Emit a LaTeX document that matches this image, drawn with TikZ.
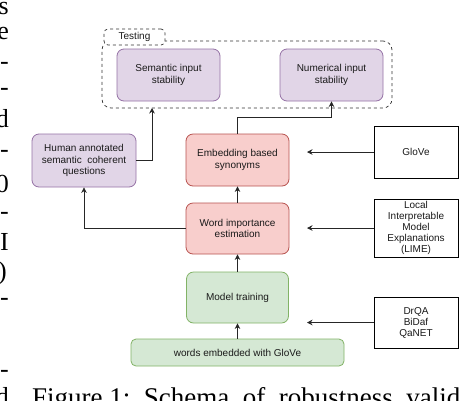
\documentclass[tikz,border=0pt]{standalone}
\usepackage{fontspec}
\setmainfont{Liberation Sans}
\newfontfamily\paperfont{Liberation Serif}
\usetikzlibrary{arrows.meta}
\definecolor{purfill}{HTML}{E1D5E7}
\definecolor{purline}{HTML}{9673A6}
\definecolor{redfill}{HTML}{F8CECC}
\definecolor{redline}{HTML}{B85450}
\definecolor{grnfill}{HTML}{D5E8D4}
\definecolor{grnline}{HTML}{82B366}
\definecolor{txt}{HTML}{1A1A1A}
\tikzset{
  box/.style={rounded corners=7pt, line width=0.8pt, inner sep=0pt, align=center,
    font=\fontsize{10}{11.8}\selectfont, text=txt},
  purbox/.style={box, draw=purline, fill=purfill},
  redbox/.style={box, draw=redline, fill=redfill},
  grnbox/.style={box, draw=grnline, fill=grnfill},
  srcbox/.style={draw=black, line width=0.8pt, inner sep=0pt, align=center,
    font=\fontsize{10}{11}\selectfont, text=txt},
  arr/.style={draw=black!85, line width=0.8pt, -{Stealth[length=5.5pt,width=5.5pt]}},
  frag/.style={font=\paperfont\fontsize{26}{30}\selectfont, inner sep=0pt, anchor=base east},
}
\begin{document}
\begin{tikzpicture}[x=1pt,y=-1pt]
\useasboundingbox (0,0) rectangle (460,400);
\clip (0,0) rectangle (460,400);
\fill[white] (0,0) rectangle (460,400);

% Testing container
\node[draw=black!80, dashed, line width=0.7pt, rounded corners=9pt, minimum width=290pt, minimum height=67pt, inner sep=0pt] (testing) at (247,74.5) {};
\node[draw=black!80, dashed, fill=white, line width=0.7pt, rounded corners=4pt, minimum width=61pt, minimum height=16pt, inner sep=0pt, font=\fontsize{10}{11}\selectfont, text=txt] (tab) at (134.5,37) {Testing};

\node[purbox, minimum width=103pt, minimum height=52pt] (semantic) at (168.5,75) {Semantic input\\stability};
\node[purbox, minimum width=103pt, minimum height=52pt] (numerical) at (331.5,75) {Numerical input\\stability};

\node[purbox, minimum width=104pt, minimum height=53pt] (human) at (84,160.5) {Human annotated\\semantic\ \ coherent\\questions};
\node[redbox, minimum width=103pt, minimum height=52pt] (embed) at (237.5,160) {Embedding based\\synonyms};
\node[redbox, minimum width=103pt, minimum height=51pt] (word) at (237.5,228.5) {Word importance\\estimation};
\node[grnbox, minimum width=102pt, minimum height=51pt] (model) at (237.5,297.5) {Model training};
\node[grnbox, rounded corners=5pt, minimum width=213pt, minimum height=27pt] (words) at (237.5,352.5) {words embedded with GloVe};

\node[srcbox, minimum width=84pt, minimum height=52pt] (glove) at (416,152) {GloVe};
\node[srcbox, minimum width=84pt, minimum height=58pt] (lime) at (416,228) {Local\\Interpretable\\Model\\Explanations\\(LIME)};
\node[srcbox, minimum width=84pt, minimum height=51pt] (drqa) at (416,322.5) {DrQA\\BiDaf\\QaNET};

\coordinate (gend) at (307,152);
\coordinate (lend) at (307,228);
\coordinate (dend) at (307,322.5);
\coordinate (tin) at (152,108);

% connectors
\draw[arr] (words) -- (model);
\draw[arr] (model) -- (word);
\draw[arr] (word) -- (embed);
\draw[arr] (word.west) -| (human.south);
\draw[arr] (embed.north) -- ++(0,-16) -| (numerical.south);
\draw[arr] (human.east) -| (tin);
\draw[arr] (glove.west) -- (gend);
\draw[arr] (lime.west) -- (lend);
\draw[arr] (drqa.west) -- (dend);

% fragments of the surrounding page text
\node[frag] (f1) at (9,14) {s};
\node[frag] (f2) at (9,39) {e};
\node[frag] (f3) at (9,69) {-};
\node[frag] (f4) at (9,95) {-};
\node[frag] (f5) at (9,127) {d};
\node[frag] (f6) at (9,157) {-};
\node[frag] (f7) at (9,192) {0};
\node[frag] (f8) at (9,219) {-};
\node[frag] (f9) at (9,250) {I};
\node[frag] (f10) at (7,279) {)};
\node[frag] (f11) at (9,305) {-};
\node[frag] (f12) at (9,377) {-};
\node[frag] (f13) at (9,405) {d};
\node[font=\paperfont\fontsize{27}{30}\selectfont, inner sep=0pt, anchor=base west] (caption) at (32,406) {Figure 1:\ \ Schema\ \ of\ \ robustness\ \ validation};
\end{tikzpicture}
\end{document}
